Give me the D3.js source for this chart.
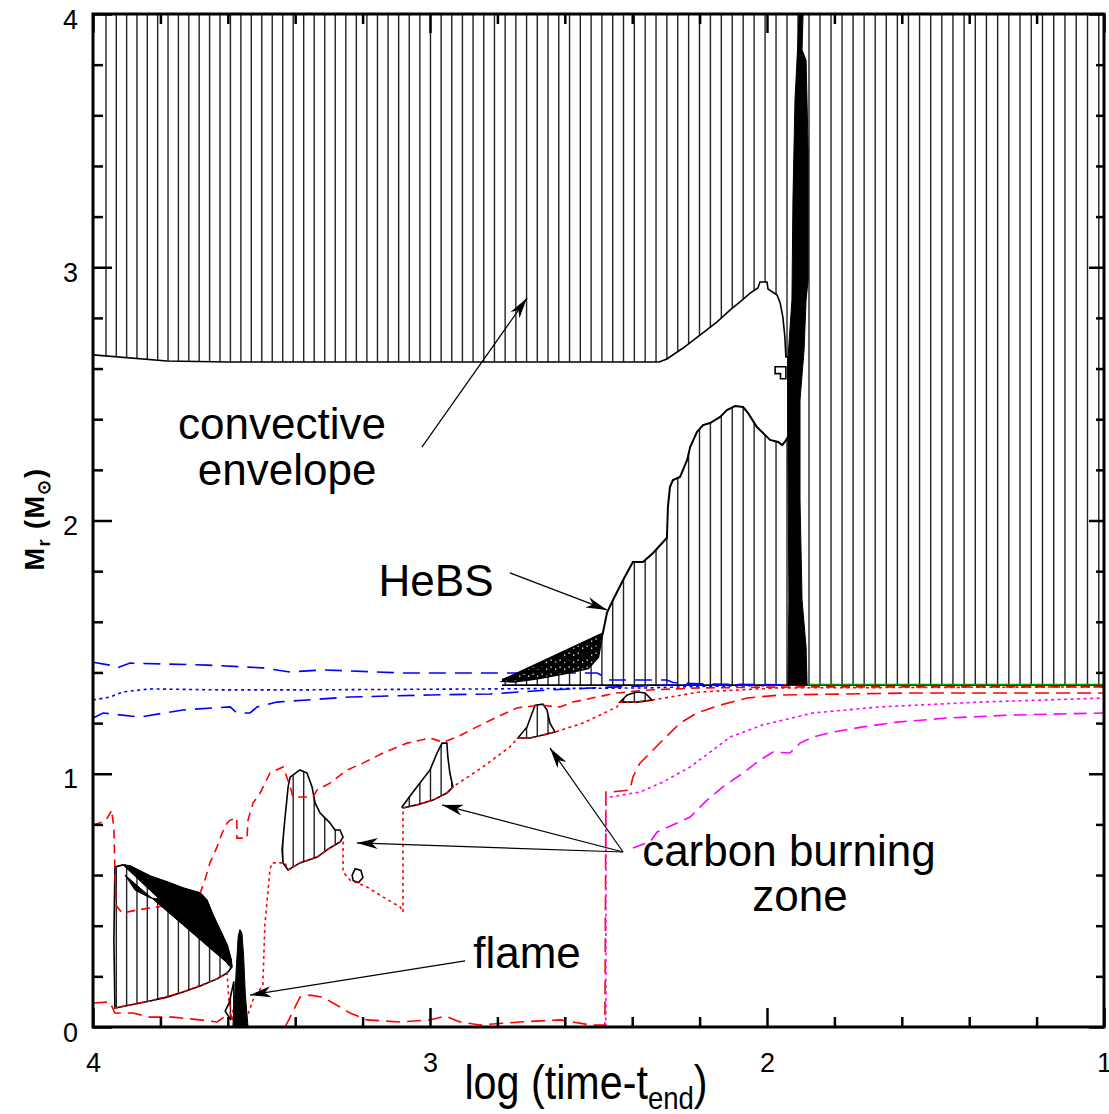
<!DOCTYPE html>
<html lang="en">
<head>
<meta charset="utf-8"/>
<title>Kippenhahn diagram</title>
<script src="https://cdn.jsdelivr.net/npm/d3@7/dist/d3.min.js"></script>
<style>
  html,body { margin:0; padding:0; background:#fff; }
  svg { display:block; }
  text { font-family:"Liberation Sans", Arial, Helvetica, sans-serif; }
</style>
</head>
<body>
<svg id="chart" width="1109" height="1114"></svg>
<script>
// ---- data: [log(time - t_end), M_r (Msun)] ----
const xMajor = [4, 3, 2, 1];
const yMajor = [0, 1, 2, 3, 4];
const xMinor = d3.range(1.2, 4, 0.2).filter(v => Math.abs(v - Math.round(v)) > 0.01);
const yMinor = d3.range(0.2, 4, 0.2).filter(v => Math.abs(v - Math.round(v)) > 0.01);

// convective envelope, lower boundary
const envBottom = [[4.00,2.654],[3.78,2.630],[3.60,2.626],[2.320,2.626],[2.297,2.638],[2.249,2.681],[2.199,2.732],
  [2.148,2.784],[2.110,2.831],[2.080,2.863],[2.050,2.898],[2.027,2.918],[2.021,2.942],[2.000,2.942],[1.997,2.914],
  [1.970,2.890],[1.961,2.859],[1.953,2.804],[1.947,2.725],[1.944,2.646],[1.938,2.646]];
// He burning shell convective zone, upper boundary (bottom at 1.35)
const hebsBase = 1.35;
const hebsTop = [[2.786,1.370],[2.740,1.390],[2.674,1.418],[2.614,1.440],[2.555,1.461],[2.504,1.500],[2.487,1.556],
  [2.475,1.635],[2.457,1.686],[2.427,1.765],[2.398,1.836],[2.368,1.836],[2.338,1.872],[2.303,1.923],[2.297,1.931],
  [2.294,2.053],[2.288,2.132],[2.279,2.160],[2.258,2.172],[2.237,2.239],[2.228,2.290],[2.208,2.349],[2.190,2.377],
  [2.169,2.385],[2.139,2.409],[2.119,2.436],[2.095,2.452],[2.071,2.448],[2.056,2.424],[2.030,2.369],[2.006,2.338],
  [1.991,2.318],[1.967,2.310],[1.955,2.298],[1.947,2.310],[1.938,2.330]];
const hebsNoiseLow = [[2.487,1.556],[2.500,1.460],[2.530,1.415],[2.600,1.395],[2.680,1.375],[2.750,1.362],[2.786,1.365]];
// dense convective shells near log t ~ 1.9
const denseStrip = [[1.938,1.35],[1.935,1.686],[1.938,2.280],[1.938,2.638],[1.926,2.871],[1.923,3.266],[1.917,3.660],
  [1.908,3.897],[1.905,4.0],[1.893,4.0],[1.896,3.858],[1.884,3.818],[1.878,3.463],[1.878,2.950],[1.884,2.871],
  [1.890,2.673],[1.902,2.476],[1.902,2.081],[1.896,1.686],[1.884,1.500],[1.881,1.35]];

// central carbon burning convective core
const coreTop = [[3.935,0.075],[3.938,0.344],[3.935,0.632],[3.911,0.640],[3.890,0.636],[3.831,0.596],[3.780,0.573],
  [3.733,0.549],[3.682,0.529],[3.662,0.501],[3.644,0.442],[3.623,0.383],[3.602,0.324],[3.590,0.265],[3.588,0.237]];
const coreBottom = [[3.588,0.237],[3.602,0.213],[3.632,0.190],[3.682,0.162],[3.733,0.138],[3.780,0.118],
  [3.831,0.103],[3.890,0.087],[3.935,0.075]];
const coreNoiseLow = [[3.588,0.237],[3.599,0.245],[3.617,0.304],[3.638,0.363],[3.659,0.430],[3.682,0.470],
  [3.733,0.490],[3.780,0.500],[3.831,0.510],[3.875,0.540],[3.905,0.600]];
// flame
const flameSpike = [[3.585,0.0],[3.580,0.100],[3.574,0.250],[3.569,0.360],[3.564,0.385],[3.558,0.370],
  [3.553,0.280],[3.548,0.130],[3.540,0.0]];
const flameSide = [[3.608,0.063],[3.596,0.095],[3.582,0.180],[3.582,0.040],[3.592,0.030]];
// carbon burning shells
const shellA = [[3.415,0.987],[3.386,1.015],[3.365,1.003],[3.350,0.948],[3.341,0.885],[3.326,0.845],[3.297,0.806],
  [3.282,0.778],[3.267,0.778],[3.258,0.750],[3.267,0.731],[3.297,0.707],[3.335,0.671],[3.386,0.648],[3.421,0.620],
  [3.436,0.648],[3.439,0.699],[3.430,0.829],[3.421,0.948]];
const shellB = [[3.083,0.869],[3.068,0.896],[3.039,0.948],[3.000,1.015],[2.979,1.082],[2.964,1.121],[2.950,1.121],
  [2.947,1.066],[2.941,1.003],[2.932,0.948],[2.950,0.924],[2.991,0.896],[3.039,0.877],[3.080,0.865]];
const shellC = [[2.739,1.141],[2.712,1.185],[2.697,1.240],[2.688,1.271],[2.665,1.275],[2.653,1.252],[2.644,1.200],
  [2.629,1.165],[2.665,1.153],[2.703,1.141]];
const shellD = [[2.436,1.283],[2.415,1.311],[2.386,1.323],[2.362,1.319],[2.341,1.291],[2.386,1.283]];
const smallLoop = [[3.231,0.600],[3.222,0.625],[3.205,0.618],[3.199,0.590],[3.212,0.570],[3.228,0.578]];
const smallBox = [[1.976,2.607],[1.944,2.607],[1.944,2.560],[1.960,2.560],[1.960,2.580],[1.976,2.580]];

// abundance boundaries
const blueUpper = [[4.00,1.440],[3.950,1.429],[3.929,1.418],[3.890,1.437],[3.662,1.429],[3.496,1.418],[3.415,1.402],
  [3.318,1.410],[3.080,1.398],[2.822,1.398],[2.504,1.398],[2.466,1.370],[2.297,1.370],[2.279,1.360],[2.200,1.355],[1.880,1.350]];
const blueMid = [[4.00,1.291],[3.950,1.303],[3.911,1.323],[3.831,1.335],[3.614,1.331],[3.415,1.331],[2.822,1.335],
  [2.350,1.339],[2.200,1.345],[1.880,1.350]];
const blueLower = [[4.00,1.220],[3.970,1.240],[3.861,1.224],[3.733,1.252],[3.593,1.264],[3.573,1.240],[3.534,1.240],
  [3.513,1.264],[3.454,1.283],[3.240,1.303],[3.000,1.311],[2.822,1.315],[2.644,1.331],[2.445,1.343],[2.300,1.350],[1.880,1.350]];
const redUpper = [[4.00,0.798],[3.979,0.806],[3.958,0.825],[3.944,0.857],[3.938,0.778],[3.935,0.620],[3.932,0.482],
  [3.914,0.450],[3.869,0.462],[3.810,0.474],[3.772,0.482],[3.712,0.513],[3.682,0.529],[3.668,0.580],[3.653,0.648],
  [3.632,0.711],[3.617,0.766],[3.602,0.806],[3.593,0.817],[3.573,0.825],[3.573,0.746],[3.543,0.746],[3.540,0.817],
  [3.525,0.885],[3.504,0.924],[3.475,1.003],[3.436,1.027],[3.415,0.950],[3.407,0.908],[3.347,0.908],[3.335,0.936],
  [3.297,0.963],[3.246,1.015],[3.199,1.042],[3.139,1.082],[3.068,1.121],[3.000,1.141],[2.961,1.125],[2.920,1.145],
  [2.861,1.185],[2.801,1.224],[2.742,1.260],[2.674,1.271],[2.614,1.264],[2.576,1.283],[2.504,1.303],[2.445,1.319],
  [2.347,1.331],[2.199,1.339],[1.902,1.343],[1.00,1.343]];
const redMidA = [[3.935,0.075],[3.831,0.103],[3.733,0.138],[3.632,0.190],[3.602,0.213],[3.596,0.090],[3.573,0.028],[3.555,0.0]];
const redMidB = [[3.546,0.028],[3.525,0.107],[3.496,0.166],[3.490,0.403],[3.475,0.620],[3.469,0.648],[3.430,0.648],
  [3.421,0.620],[3.386,0.648],[3.335,0.671],[3.297,0.707],[3.267,0.731],[3.258,0.738],[3.258,0.612],[3.237,0.580],
  [3.187,0.553],[3.139,0.513],[3.089,0.474],[3.080,0.454],[3.080,0.865],[3.039,0.877],[2.991,0.896],[2.950,0.924],
  [2.932,0.948],[2.843,1.027],[2.763,1.106],[2.739,1.141],[2.703,1.141],[2.665,1.153],[2.629,1.165],[2.546,1.200],
  [2.445,1.264],[2.436,1.283],[2.386,1.283],[2.341,1.291],[2.199,1.323],[1.967,1.339],[1.00,1.343]];
const redLower = [[4.00,0.095],[3.950,0.099],[3.935,0.055],[3.881,0.055],[3.831,0.039],[3.763,0.039],[3.682,0.028],
  [3.632,0.020],[3.593,0.055],[3.585,0.028],[3.564,0.0],[3.430,0.0],[3.415,0.039],[3.386,0.118],[3.356,0.126],
  [3.318,0.118],[3.288,0.095],[3.237,0.055],[3.187,0.028],[3.089,0.020],[3.000,0.028],[2.955,0.043],[2.911,0.020],
  [2.852,0.008],[2.733,0.020],[2.614,0.028],[2.525,0.008],[2.481,0.008],[2.478,0.928],[2.460,0.928],[2.407,0.936],
  [2.398,0.987],[2.377,1.042],[2.347,1.082],[2.309,1.133],[2.258,1.200],[2.208,1.240],[2.139,1.271],[2.059,1.299],
  [1.961,1.311],[1.567,1.319],[1.00,1.319]];
const magentaMid = [[2.478,0.0],[2.478,0.908],[2.466,0.908],[2.377,0.928],[2.309,0.967],[2.228,1.027],[2.160,1.094],
  [2.110,1.145],[2.012,1.193],[1.864,1.240],[1.665,1.264],[1.368,1.283],[1.00,1.299]];
const magentaLower = [[2.398,0.707],[2.347,0.731],[2.326,0.770],[2.228,0.829],[2.178,0.896],[2.131,0.948],[2.071,1.003],
  [2.021,1.054],[1.982,1.086],[1.932,1.082],[1.902,1.121],[1.864,1.145],[1.804,1.165],[1.715,1.185],[1.614,1.204],
  [1.466,1.220],[1.270,1.232],[1.00,1.240]];
const greenBase = [[1.938,1.352],[1.00,1.352]];

// annotations
const labels = [
  {t:"convective", p:[3.439,2.322]}, {t:"envelope", p:[3.424,2.140]},
  {t:"HeBS", p:[2.982,1.702]},
  {t:"carbon burning", p:[1.935,0.636]}, {t:"zone", p:[1.902,0.460]},
  {t:"flame", p:[2.712,0.233]}
];
const arrows = [
  {from:[3.024,2.290], to:[2.712,2.879]},
  {from:[2.763,1.793], to:[2.475,1.647]},
  {from:[2.427,0.691], to:[3.217,0.727]},
  {from:[2.427,0.691], to:[2.964,0.877]},
  {from:[2.427,0.691], to:[2.644,1.102]},
  {from:[2.896,0.261], to:[3.534,0.126]}
];

// ---- drawing ----
const svg = d3.select("#chart");
const x = d3.scaleLinear().domain([4, 1]).range([93, 1104]);
const y = d3.scaleLinear().domain([0, 4]).range([1027, 14]);
const line = d3.line().x(d => x(d[0])).y(d => y(d[1]));
const poly = pts => line(pts) + "Z";

const defs = svg.append("defs");
defs.append("marker").attr("id","head")
  .attr("markerUnits","userSpaceOnUse").attr("viewBox","-22 -7 24 14")
  .attr("refX",0).attr("refY",0).attr("markerWidth",24).attr("markerHeight",14)
  .attr("orient","auto")
  .append("path").attr("d","M0,0 L-21,-5.5 L-15,0 L-21,5.5 Z").attr("fill","#000");

// speckled fill for the noisy shell edge
const sp = defs.append("pattern").attr("id","speckle").attr("patternUnits","userSpaceOnUse")
  .attr("width",9).attr("height",7);
sp.append("rect").attr("width",9).attr("height",7).attr("fill","#000");
[[1.5,1.5],[6,3.5]].forEach(c =>
  sp.append("rect").attr("x",c[0]).attr("y",c[1]).attr("width",1.3).attr("height",1.3).attr("fill","#fff"));

// hatched (convective) regions
const convPoly = [[4,4],[1,4],[1,hebsBase],[2.786,hebsBase]]
  .concat(hebsTop, envBottom.slice().reverse());
const corePoly = coreTop.concat(coreBottom.slice(1));
const hatched = [convPoly, corePoly, shellA, shellB, shellC, shellD, flameSide];
const clip = defs.append("clipPath").attr("id","hatchClip");
hatched.forEach(p => clip.append("path").attr("d", poly(p)));

// vertical hatch lines, one per model output step (spacing slowly widening)
const hatchX = [];
for (let px = 106; px < x(1) - 3; px += 10.3 + (px - 93) / 1011) hatchX.push(x.invert(px));
svg.append("g").attr("clip-path","url(#hatchClip)")
  .selectAll("line").data(hatchX).join("line")
    .attr("x1", d => x(d)).attr("x2", d => x(d))
    .attr("y1", y(4)).attr("y2", y(0))
    .attr("stroke","#222").attr("stroke-width",1.4);

// outlines
const outl = svg.append("g").attr("fill","none").attr("stroke","#000").attr("stroke-width",1.6);
outl.append("path").attr("d", line(envBottom.concat([hebsTop[hebsTop.length-1]])));
outl.append("path").attr("d", line(hebsTop)).attr("stroke-width",2);
outl.append("path").attr("d", line([[2.786,hebsBase],[1,hebsBase]]));
[corePoly, shellA, shellB, shellC, shellD, flameSide, smallLoop, smallBox]
  .forEach(p => outl.append("path").attr("d", poly(p)));

// coloured abundance lines
const styled = [
  {d:blueUpper, c:"#0000ff", dash:"17,9"},
  {d:blueMid, c:"#0000ff", dash:"3,3.5"},
  {d:blueLower, c:"#0000ff", dash:"17,9"},
  {d:redUpper, c:"#ff0000", dash:"9,6"},
  {d:redMidA, c:"#ff0000", dash:"3,3.5"},
  {d:redMidB, c:"#ff0000", dash:"3,3.5"},
  {d:redLower, c:"#ff0000", dash:"14,7"},
  {d:magentaMid, c:"#ff00ff", dash:"3,3.5"},
  {d:magentaLower, c:"#ff00ff", dash:"13,7"},
  {d:greenBase, c:"#00a000", dash:null}
];
svg.append("g").attr("fill","none").selectAll("path").data(styled).join("path")
  .attr("d", s => line(s.d)).attr("stroke", s => s.c)
  .attr("stroke-width",1.6).attr("stroke-dasharray", s => s.dash);

// dense (unresolved) convective structure drawn solid black
const solid = svg.append("g").attr("fill","#000").attr("stroke","#000").attr("stroke-width",1);
solid.append("path").attr("d", poly(coreTop.slice(3).concat(coreNoiseLow.slice().reverse())));
solid.append("path").attr("d", poly(hebsTop.slice(0,7).concat(hebsNoiseLow.slice().reverse())))
  .attr("fill","url(#speckle)").attr("stroke-width",1.5);
solid.append("path").attr("d", poly(flameSpike));
solid.append("path").attr("d", poly(denseStrip));

// frame
svg.append("rect").attr("x", x(4)).attr("y", y(4))
  .attr("width", x(1) - x(4)).attr("height", y(0) - y(4))
  .attr("fill","none").attr("stroke","#000").attr("stroke-width",3);

function styleAxis(g) {
  g.select(".domain").remove();
  g.selectAll("line").attr("stroke","#000").attr("stroke-width",2.5);
  g.selectAll("text").attr("fill","#000").attr("font-size",27)
    .attr("font-family","Liberation Sans, Arial, sans-serif");
}
const fmt = d3.format("d");
svg.append("g").attr("transform",`translate(0,${y(0)})`)
  .call(d3.axisBottom(x).tickValues(xMajor).tickSize(-19).tickPadding(26).tickFormat(fmt)).call(styleAxis);
svg.append("g").attr("transform",`translate(0,${y(0)})`)
  .call(d3.axisBottom(x).tickValues(xMinor).tickSize(-10).tickFormat("")).call(styleAxis);
svg.append("g").attr("transform",`translate(0,${y(4)})`)
  .call(d3.axisTop(x).tickValues(xMajor).tickSize(-19).tickFormat("")).call(styleAxis);
svg.append("g").attr("transform",`translate(0,${y(4)})`)
  .call(d3.axisTop(x).tickValues(xMinor).tickSize(-10).tickFormat("")).call(styleAxis);
const gyl = svg.append("g").attr("transform",`translate(${x(4)},0)`)
  .call(d3.axisLeft(y).tickValues(yMajor).tickSize(-19).tickPadding(15).tickFormat(fmt)).call(styleAxis);
gyl.selectAll("text").attr("dy","0.52em");
svg.append("g").attr("transform",`translate(${x(4)},0)`)
  .call(d3.axisLeft(y).tickValues(yMinor).tickSize(-10).tickFormat("")).call(styleAxis);
svg.append("g").attr("transform",`translate(${x(1)},0)`)
  .call(d3.axisRight(y).tickValues(yMajor).tickSize(-15).tickFormat("")).call(styleAxis);
svg.append("g").attr("transform",`translate(${x(1)},0)`)
  .call(d3.axisRight(y).tickValues(yMinor).tickSize(-8).tickFormat("")).call(styleAxis);

// axis titles
const xt = svg.append("text").attr("transform","translate(586,1099) scale(0.86,1)")
  .attr("text-anchor","middle").attr("font-size",48).attr("fill","#000");
xt.append("tspan").text("log (time-t");
xt.append("tspan").attr("font-size",32).attr("dy",10).text("end");
xt.append("tspan").attr("dy",-10).text(")");

const yt = svg.append("text").attr("transform","translate(44,519) rotate(-90)")
  .attr("text-anchor","middle").attr("font-size",27).attr("font-weight","bold")
  .attr("letter-spacing",1.5).attr("fill","#000");
yt.append("tspan").text("M");
yt.append("tspan").attr("font-size",18).attr("dy",6).text("r");
yt.append("tspan").attr("dy",-6).text(" (M");
yt.append("tspan").attr("font-size",18).attr("dy",6).text("\u2299");
yt.append("tspan").attr("dy",-6).text(")");

// annotations
svg.append("g").selectAll("line").data(arrows).join("line")
  .attr("x1", a => x(a.from[0])).attr("y1", a => y(a.from[1]))
  .attr("x2", a => x(a.to[0])).attr("y2", a => y(a.to[1]))
  .attr("stroke","#000").attr("stroke-width",1.2).attr("marker-end","url(#head)");
svg.append("g").selectAll("text").data(labels).join("text")
  .attr("x", l => x(l.p[0])).attr("y", l => y(l.p[1]))
  .attr("text-anchor","middle").attr("font-size",44).attr("fill","#000")
  .text(l => l.t);
</script>
</body>
</html>
